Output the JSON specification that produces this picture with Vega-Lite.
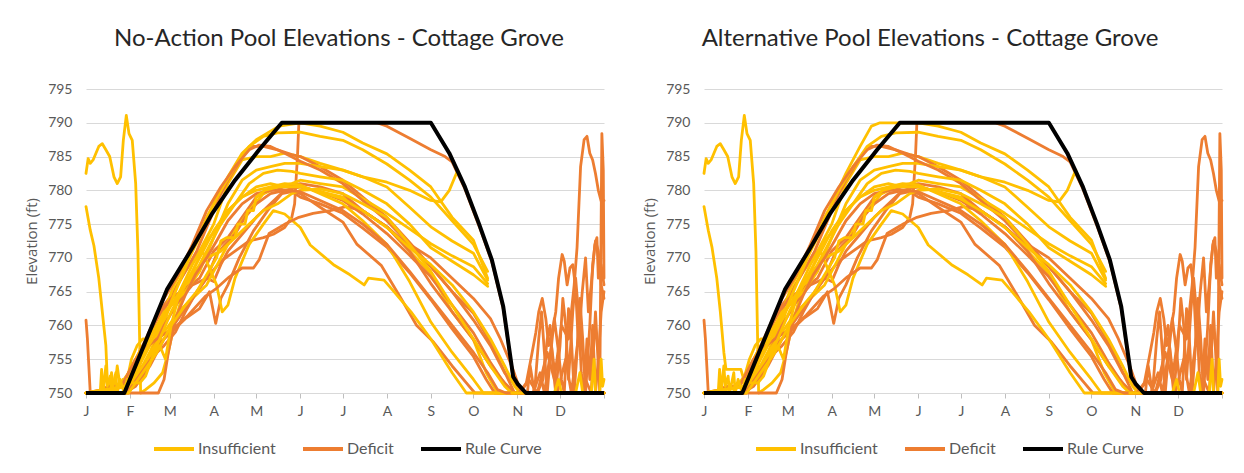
{
"$schema": "https://vega.github.io/schema/vega-lite/v6.json",
"padding": {"left": 24, "top": 27, "right": 5, "bottom": 2},
"background": "#ffffff",
"config": {
 "font": "Lato",
 "view": {"stroke": null},
 "axis": {"labelFont": "Lato", "labelFontSize": 14, "labelColor": "#595959", "titleFont": "Open Sans", "titleFontSize": 15, "titleColor": "#595959", "titleFontWeight": "normal"},
 "legend": {"labelFont": "Lato", "labelFontSize": 16, "labelColor": "#595959"},
 "title": {"font": "Lato", "fontSize": 24, "fontWeight": "normal", "color": "#262626"}
},
"datasets": {
"series": [
 {"s": "RC", "type": "Rule Curve", "panel": "both"},
 {"s": "Y1", "type": "Insufficient", "panel": "both"},
 {"s": "Y2", "type": "Insufficient", "panel": "NA"},
 {"s": "Y2a", "type": "Insufficient", "panel": "ALT"},
 {"s": "Y3", "type": "Insufficient", "panel": "NA"},
 {"s": "Y3a", "type": "Insufficient", "panel": "ALT"},
 {"s": "Y4", "type": "Insufficient", "panel": "both"},
 {"s": "Y5", "type": "Insufficient", "panel": "both"},
 {"s": "Y6", "type": "Insufficient", "panel": "both"},
 {"s": "Y7", "type": "Insufficient", "panel": "both"},
 {"s": "Y8", "type": "Insufficient", "panel": "both"},
 {"s": "Y9", "type": "Insufficient", "panel": "both"},
 {"s": "Y10", "type": "Insufficient", "panel": "both"},
 {"s": "Y11", "type": "Insufficient", "panel": "both"},
 {"s": "Y12", "type": "Insufficient", "panel": "both"},
 {"s": "D1", "type": "Deficit", "panel": "both"},
 {"s": "D2", "type": "Deficit", "panel": "both"},
 {"s": "D3", "type": "Deficit", "panel": "both"},
 {"s": "D4", "type": "Deficit", "panel": "both"},
 {"s": "D5", "type": "Deficit", "panel": "both"},
 {"s": "D6", "type": "Deficit", "panel": "both"},
 {"s": "D7", "type": "Deficit", "panel": "both"},
 {"s": "D8", "type": "Deficit", "panel": "both"},
 {"s": "D9", "type": "Deficit", "panel": "both"},
 {"s": "Z1", "type": "Deficit", "panel": "both"},
 {"s": "Z2", "type": "Deficit", "panel": "both"},
 {"s": "Z3", "type": "Deficit", "panel": "both"},
 {"s": "Z4", "type": "Deficit", "panel": "both"},
 {"s": "Z5", "type": "Deficit", "panel": "both"}
],
"pts": [
{"s":"Y1","d":0,"e":782.5},{"s":"Y1","d":1.5,"e":784.7},{"s":"Y1","d":3,"e":784},{"s":"Y1","d":5,"e":784.5},{"s":"Y1","d":7,"e":785.5},{"s":"Y1","d":9,"e":786.5},{"s":"Y1","d":11.5,"e":786.9},{"s":"Y1","d":14,"e":786},{"s":"Y1","d":16.7,"e":785},{"s":"Y1","d":19.7,"e":782},{"s":"Y1","d":22,"e":781},{"s":"Y1","d":24.4,"e":782},{"s":"Y1","d":26.3,"e":787.4},{"s":"Y1","d":28.4,"e":791.1},{"s":"Y1","d":30.3,"e":788.4},{"s":"Y1","d":32.6,"e":787.4},{"s":"Y1","d":35,"e":781},{"s":"Y1","d":36.6,"e":771},{"s":"Y1","d":38.5,"e":750},{"s":"Y1","d":42,"e":750.5},{"s":"Y1","d":48,"e":751.5},{"s":"Y1","d":54,"e":753},{"s":"Y1","d":58,"e":756},{"s":"Y1","d":62,"e":760},{"s":"Y1","d":66,"e":763},{"s":"Y1","d":70,"e":765.5},{"s":"Y1","d":80,"e":769},{"s":"Y1","d":90,"e":773},{"s":"Y1","d":100,"e":777},{"s":"Y1","d":110,"e":779},{"s":"Y1","d":120,"e":780.5},{"s":"Y1","d":130,"e":781},{"s":"Y1","d":140,"e":780.5},{"s":"Y1","d":151,"e":780.5},{"s":"Y1","d":165,"e":779.8},{"s":"Y1","d":181,"e":779},{"s":"Y1","d":195,"e":777},{"s":"Y1","d":212,"e":774.6},{"s":"Y1","d":228,"e":771},{"s":"Y1","d":243,"e":767.7},{"s":"Y1","d":258,"e":762},{"s":"Y1","d":273,"e":757.9},{"s":"Y1","d":282,"e":753},{"s":"Y1","d":290,"e":750},{"s":"Y1","d":365,"e":750},
{"s":"D1","d":0,"e":760.8},{"s":"D1","d":1,"e":758},{"s":"D1","d":2,"e":754},{"s":"D1","d":3,"e":750},{"s":"D1","d":27,"e":750},{"s":"D1","d":35,"e":751},{"s":"D1","d":45,"e":754},{"s":"D1","d":55,"e":758},{"s":"D1","d":65,"e":761},{"s":"D1","d":75,"e":764},{"s":"D1","d":85,"e":767},{"s":"D1","d":95,"e":769.5},{"s":"D1","d":105,"e":771},{"s":"D1","d":115,"e":772.5},{"s":"D1","d":125,"e":773},{"s":"D1","d":132,"e":773.5},{"s":"D1","d":140,"e":774.5},{"s":"D1","d":145,"e":776},{"s":"D1","d":147,"e":778},{"s":"D1","d":149,"e":785},{"s":"D1","d":150,"e":790},{"s":"D1","d":205,"e":790},{"s":"D1","d":212,"e":789.5},{"s":"D1","d":228,"e":787.7},{"s":"D1","d":243,"e":786},{"s":"D1","d":253,"e":785},{"s":"D1","d":258,"e":784.2},{"s":"D1","d":267,"e":780.2},{"s":"D1","d":277,"e":774.7},{"s":"D1","d":286,"e":769.4},{"s":"D1","d":294,"e":762.5},{"s":"D1","d":301,"e":752.1},{"s":"D1","d":306,"e":750},{"s":"D1","d":365,"e":750},
{"s":"Y2","d":0,"e":777.6},{"s":"Y2","d":3,"e":774.1},{"s":"Y2","d":5.6,"e":771.8},{"s":"Y2","d":9,"e":767},{"s":"Y2","d":11.5,"e":762},{"s":"Y2","d":14,"e":757},{"s":"Y2","d":15,"e":752},{"s":"Y2","d":16,"e":750},{"s":"Y2","d":18,"e":753},{"s":"Y2","d":20,"e":750},{"s":"Y2","d":22,"e":754},{"s":"Y2","d":24,"e":751},{"s":"Y2","d":26,"e":752},{"s":"Y2","d":28,"e":751},{"s":"Y2","d":32,"e":755},{"s":"Y2","d":36,"e":757},{"s":"Y2","d":40,"e":758},{"s":"Y2","d":45,"e":758},{"s":"Y2","d":50,"e":756},{"s":"Y2","d":55,"e":760},{"s":"Y2","d":60,"e":764},{"s":"Y2","d":64,"e":766},{"s":"Y2","d":70,"e":768},{"s":"Y2","d":80,"e":771},{"s":"Y2","d":90,"e":775},{"s":"Y2","d":100,"e":781},{"s":"Y2","d":110,"e":784.5},{"s":"Y2","d":120,"e":785},{"s":"Y2","d":130,"e":785},{"s":"Y2","d":140,"e":785.5},{"s":"Y2","d":151,"e":785},{"s":"Y2","d":165,"e":784},{"s":"Y2","d":181,"e":783},{"s":"Y2","d":195,"e":782},{"s":"Y2","d":212,"e":781.2},{"s":"Y2","d":228,"e":780},{"s":"Y2","d":243,"e":778.5},{"s":"Y2","d":250,"e":778.3},{"s":"Y2","d":256,"e":780},{"s":"Y2","d":262,"e":783},
{"s":"Y2a","d":0,"e":777.6},{"s":"Y2a","d":3,"e":774.1},{"s":"Y2a","d":5.6,"e":771.6},{"s":"Y2a","d":9,"e":767},{"s":"Y2a","d":11.5,"e":762},{"s":"Y2a","d":14,"e":756},{"s":"Y2a","d":15.5,"e":753.5},{"s":"Y2a","d":26,"e":753.5},{"s":"Y2a","d":28,"e":752},{"s":"Y2a","d":32,"e":755},{"s":"Y2a","d":36,"e":757},{"s":"Y2a","d":40,"e":758},{"s":"Y2a","d":45,"e":758},{"s":"Y2a","d":50,"e":756},{"s":"Y2a","d":55,"e":760},{"s":"Y2a","d":60,"e":764},{"s":"Y2a","d":64,"e":766},{"s":"Y2a","d":70,"e":768},{"s":"Y2a","d":80,"e":771},{"s":"Y2a","d":90,"e":775},{"s":"Y2a","d":100,"e":781},{"s":"Y2a","d":110,"e":784.5},{"s":"Y2a","d":120,"e":785},{"s":"Y2a","d":130,"e":785},{"s":"Y2a","d":140,"e":785.5},{"s":"Y2a","d":151,"e":785},{"s":"Y2a","d":165,"e":784},{"s":"Y2a","d":181,"e":783},{"s":"Y2a","d":195,"e":782},{"s":"Y2a","d":212,"e":781.2},{"s":"Y2a","d":228,"e":780},{"s":"Y2a","d":243,"e":778.5},{"s":"Y2a","d":250,"e":778.3},{"s":"Y2a","d":256,"e":780},{"s":"Y2a","d":262,"e":783},
{"s":"D2","d":0,"e":750},{"s":"D2","d":27,"e":750},{"s":"D2","d":33,"e":752},{"s":"D2","d":40,"e":756},{"s":"D2","d":48,"e":760},{"s":"D2","d":55,"e":763},{"s":"D2","d":62,"e":765},{"s":"D2","d":70,"e":768},{"s":"D2","d":78,"e":771},{"s":"D2","d":86,"e":775},{"s":"D2","d":94,"e":779},{"s":"D2","d":100,"e":781.5},{"s":"D2","d":106,"e":783.5},{"s":"D2","d":112,"e":785.5},{"s":"D2","d":117,"e":786.5},{"s":"D2","d":125,"e":786.5},{"s":"D2","d":135,"e":786},{"s":"D2","d":145,"e":785.3},{"s":"D2","d":151,"e":785},{"s":"D2","d":165,"e":783.5},{"s":"D2","d":181,"e":781.5},{"s":"D2","d":195,"e":779},{"s":"D2","d":212,"e":776},{"s":"D2","d":228,"e":772.3},{"s":"D2","d":243,"e":768.7},{"s":"D2","d":258,"e":765},{"s":"D2","d":273,"e":761.8},{"s":"D2","d":285,"e":757.5},{"s":"D2","d":293,"e":754},{"s":"D2","d":302,"e":750},{"s":"D2","d":365,"e":750},
{"s":"Y3","d":0,"e":750},{"s":"Y3","d":27,"e":750},{"s":"Y3","d":35,"e":753},{"s":"Y3","d":45,"e":757},{"s":"Y3","d":55,"e":762},{"s":"Y3","d":62,"e":766},{"s":"Y3","d":70,"e":769},{"s":"Y3","d":80,"e":773},{"s":"Y3","d":90,"e":778},{"s":"Y3","d":100,"e":782},{"s":"Y3","d":110,"e":785.5},{"s":"Y3","d":120,"e":787.5},{"s":"Y3","d":128,"e":788.5},{"s":"Y3","d":136,"e":789.5},{"s":"Y3","d":151,"e":790},{"s":"Y3","d":165,"e":789.5},{"s":"Y3","d":181,"e":788.6},{"s":"Y3","d":195,"e":787},{"s":"Y3","d":212,"e":785.4},{"s":"Y3","d":228,"e":783},{"s":"Y3","d":243,"e":780.5},{"s":"Y3","d":258,"e":776},{"s":"Y3","d":273,"e":772.6},{"s":"Y3","d":283,"e":767},
{"s":"Y3a","d":0,"e":750},{"s":"Y3a","d":27,"e":750},{"s":"Y3a","d":35,"e":753},{"s":"Y3a","d":45,"e":757},{"s":"Y3a","d":55,"e":762},{"s":"Y3a","d":62,"e":766},{"s":"Y3a","d":70,"e":769},{"s":"Y3a","d":80,"e":773},{"s":"Y3a","d":90,"e":778},{"s":"Y3a","d":100,"e":782.5},{"s":"Y3a","d":110,"e":786.5},{"s":"Y3a","d":118,"e":789.5},{"s":"Y3a","d":124,"e":790},{"s":"Y3a","d":151,"e":790},{"s":"Y3a","d":165,"e":789.5},{"s":"Y3a","d":181,"e":788.6},{"s":"Y3a","d":195,"e":787},{"s":"Y3a","d":212,"e":785.4},{"s":"Y3a","d":228,"e":783},{"s":"Y3a","d":243,"e":780.5},{"s":"Y3a","d":258,"e":776},{"s":"Y3a","d":273,"e":772.6},{"s":"Y3a","d":283,"e":767},
{"s":"D3","d":0,"e":750},{"s":"D3","d":10,"e":750},{"s":"D3","d":15,"e":751},{"s":"D3","d":25,"e":751},{"s":"D3","d":30,"e":753},{"s":"D3","d":40,"e":757},{"s":"D3","d":50,"e":761},{"s":"D3","d":60,"e":764},{"s":"D3","d":70,"e":765.5},{"s":"D3","d":80,"e":767},{"s":"D3","d":90,"e":771},{"s":"D3","d":100,"e":773},{"s":"D3","d":110,"e":776},{"s":"D3","d":120,"e":779},{"s":"D3","d":130,"e":780},{"s":"D3","d":140,"e":780.5},{"s":"D3","d":151,"e":781},{"s":"D3","d":165,"e":780.5},{"s":"D3","d":181,"e":779.5},{"s":"D3","d":195,"e":777},{"s":"D3","d":212,"e":774.6},{"s":"D3","d":228,"e":771.7},{"s":"D3","d":243,"e":768.7},{"s":"D3","d":258,"e":765},{"s":"D3","d":273,"e":760.8},{"s":"D3","d":285,"e":757},{"s":"D3","d":295,"e":753},{"s":"D3","d":303,"e":751},{"s":"D3","d":308,"e":750},{"s":"D3","d":365,"e":750},
{"s":"Y4","d":0,"e":750},{"s":"Y4","d":27,"e":750},{"s":"Y4","d":35,"e":752},{"s":"Y4","d":45,"e":756},{"s":"Y4","d":55,"e":761},{"s":"Y4","d":65,"e":766},{"s":"Y4","d":75,"e":771},{"s":"Y4","d":85,"e":776},{"s":"Y4","d":95,"e":780},{"s":"Y4","d":105,"e":783.5},{"s":"Y4","d":115,"e":786.5},{"s":"Y4","d":125,"e":788},{"s":"Y4","d":135,"e":788.5},{"s":"Y4","d":151,"e":788.6},{"s":"Y4","d":165,"e":788},{"s":"Y4","d":181,"e":787.4},{"s":"Y4","d":195,"e":786},{"s":"Y4","d":212,"e":783.9},{"s":"Y4","d":228,"e":781.5},{"s":"Y4","d":243,"e":779},{"s":"Y4","d":258,"e":775.5},{"s":"Y4","d":273,"e":772},{"s":"Y4","d":283,"e":768},
{"s":"D4","d":0,"e":750},{"s":"D4","d":30,"e":750},{"s":"D4","d":38,"e":753},{"s":"D4","d":46,"e":756},{"s":"D4","d":55,"e":760},{"s":"D4","d":65,"e":763.5},{"s":"D4","d":75,"e":766},{"s":"D4","d":85,"e":767},{"s":"D4","d":90,"e":766.5},{"s":"D4","d":95,"e":769},{"s":"D4","d":100,"e":771},{"s":"D4","d":110,"e":773.5},{"s":"D4","d":120,"e":776},{"s":"D4","d":130,"e":778},{"s":"D4","d":140,"e":780},{"s":"D4","d":151,"e":780.5},{"s":"D4","d":165,"e":779.8},{"s":"D4","d":181,"e":778.5},{"s":"D4","d":195,"e":776.5},{"s":"D4","d":212,"e":773.6},{"s":"D4","d":228,"e":770.4},{"s":"D4","d":243,"e":767.2},{"s":"D4","d":258,"e":763},{"s":"D4","d":273,"e":758.9},{"s":"D4","d":285,"e":754.5},{"s":"D4","d":293,"e":752},{"s":"D4","d":300,"e":750},{"s":"D4","d":365,"e":750},
{"s":"Y5","d":0,"e":750},{"s":"Y5","d":20,"e":750},{"s":"Y5","d":30,"e":753},{"s":"Y5","d":40,"e":757},{"s":"Y5","d":50,"e":760},{"s":"Y5","d":60,"e":763},{"s":"Y5","d":70,"e":765},{"s":"Y5","d":80,"e":768},{"s":"Y5","d":90,"e":773},{"s":"Y5","d":100,"e":778},{"s":"Y5","d":110,"e":781.5},{"s":"Y5","d":120,"e":783},{"s":"Y5","d":130,"e":783.5},{"s":"Y5","d":140,"e":784},{"s":"Y5","d":151,"e":784},{"s":"Y5","d":165,"e":783.5},{"s":"Y5","d":181,"e":783},{"s":"Y5","d":195,"e":782},{"s":"Y5","d":212,"e":780.5},{"s":"Y5","d":228,"e":777.5},{"s":"Y5","d":243,"e":774.6},{"s":"Y5","d":258,"e":772.5},{"s":"Y5","d":273,"e":770.7},{"s":"Y5","d":283,"e":766.7},
{"s":"D5","d":0,"e":750},{"s":"D5","d":28,"e":750},{"s":"D5","d":40,"e":754},{"s":"D5","d":50,"e":757},{"s":"D5","d":60,"e":759},{"s":"D5","d":70,"e":761},{"s":"D5","d":80,"e":762.5},{"s":"D5","d":87,"e":765},{"s":"D5","d":91.4,"e":760.3},{"s":"D5","d":95,"e":764},{"s":"D5","d":100,"e":766},{"s":"D5","d":108,"e":770},{"s":"D5","d":118,"e":774},{"s":"D5","d":128,"e":777},{"s":"D5","d":138,"e":779.5},{"s":"D5","d":145,"e":779.8},{"s":"D5","d":151,"e":779},{"s":"D5","d":165,"e":778},{"s":"D5","d":181,"e":776.6},{"s":"D5","d":195,"e":774.4},{"s":"D5","d":212,"e":771.6},{"s":"D5","d":228,"e":767.8},{"s":"D5","d":243,"e":763.8},{"s":"D5","d":258,"e":759.5},{"s":"D5","d":273,"e":755.4},{"s":"D5","d":282,"e":752},{"s":"D5","d":288,"e":750},{"s":"D5","d":365,"e":750},
{"s":"Y6","d":0,"e":750},{"s":"Y6","d":25,"e":750},{"s":"Y6","d":35,"e":752},{"s":"Y6","d":45,"e":756},{"s":"Y6","d":55,"e":759},{"s":"Y6","d":65,"e":762},{"s":"Y6","d":75,"e":764},{"s":"Y6","d":85,"e":766},{"s":"Y6","d":95,"e":770},{"s":"Y6","d":105,"e":774},{"s":"Y6","d":115,"e":777},{"s":"Y6","d":125,"e":779.5},{"s":"Y6","d":135,"e":780.5},{"s":"Y6","d":145,"e":781},{"s":"Y6","d":151,"e":781.5},{"s":"Y6","d":165,"e":781},{"s":"Y6","d":181,"e":780.5},{"s":"Y6","d":195,"e":778.8},{"s":"Y6","d":212,"e":776.6},{"s":"Y6","d":228,"e":774.3},{"s":"Y6","d":243,"e":772.1},{"s":"Y6","d":258,"e":770.3},{"s":"Y6","d":273,"e":768.7},{"s":"Y6","d":283,"e":766.2},
{"s":"D6","d":0,"e":750},{"s":"D6","d":28,"e":750},{"s":"D6","d":35,"e":752},{"s":"D6","d":45,"e":755},{"s":"D6","d":55,"e":757},{"s":"D6","d":63,"e":759},{"s":"D6","d":70,"e":762},{"s":"D6","d":78,"e":765},{"s":"D6","d":85,"e":767},{"s":"D6","d":92,"e":770.5},{"s":"D6","d":98,"e":772},{"s":"D6","d":105,"e":773.5},{"s":"D6","d":112,"e":776},{"s":"D6","d":120,"e":778},{"s":"D6","d":130,"e":779.5},{"s":"D6","d":140,"e":780},{"s":"D6","d":151,"e":779.5},{"s":"D6","d":165,"e":777.5},{"s":"D6","d":181,"e":775.3},{"s":"D6","d":191,"e":772},{"s":"D6","d":208,"e":768.9},{"s":"D6","d":222,"e":764},{"s":"D6","d":233,"e":760},{"s":"D6","d":245,"e":757.5},{"s":"D6","d":258,"e":754},{"s":"D6","d":268,"e":751.5},{"s":"D6","d":274,"e":750},{"s":"D6","d":365,"e":750},
{"s":"Y7","d":0,"e":750},{"s":"Y7","d":25,"e":751},{"s":"Y7","d":35,"e":754},{"s":"Y7","d":45,"e":758},{"s":"Y7","d":55,"e":762},{"s":"Y7","d":65,"e":764},{"s":"Y7","d":75,"e":768},{"s":"Y7","d":82,"e":771},{"s":"Y7","d":88,"e":768},{"s":"Y7","d":92,"e":766},{"s":"Y7","d":96,"e":762},{"s":"Y7","d":100,"e":763},{"s":"Y7","d":105,"e":767},{"s":"Y7","d":115,"e":772},{"s":"Y7","d":125,"e":775},{"s":"Y7","d":132,"e":777},{"s":"Y7","d":140,"e":776.5},{"s":"Y7","d":151,"e":774.5},{"s":"Y7","d":158,"e":771.9},{"s":"Y7","d":175,"e":768.9},{"s":"Y7","d":186,"e":767.5},{"s":"Y7","d":196,"e":766},{"s":"Y7","d":199,"e":767},{"s":"Y7","d":210,"e":766.7},{"s":"Y7","d":217,"e":765},{"s":"Y7","d":229,"e":762},{"s":"Y7","d":243,"e":758},{"s":"Y7","d":258,"e":753},{"s":"Y7","d":268,"e":750},{"s":"Y7","d":365,"e":750},
{"s":"D7","d":0,"e":750},{"s":"D7","d":25,"e":751},{"s":"D7","d":30,"e":753},{"s":"D7","d":35,"e":755},{"s":"D7","d":40,"e":756.4},{"s":"D7","d":50,"e":758},{"s":"D7","d":63,"e":759.8},{"s":"D7","d":72,"e":761.5},{"s":"D7","d":84,"e":764.3},{"s":"D7","d":92,"e":765.5},{"s":"D7","d":101,"e":767.2},{"s":"D7","d":110,"e":768.5},{"s":"D7","d":118,"e":768.5},{"s":"D7","d":122,"e":769.7},{"s":"D7","d":129,"e":773.6},{"s":"D7","d":141,"e":775.1},{"s":"D7","d":150,"e":776},{"s":"D7","d":160,"e":776.6},{"s":"D7","d":172,"e":777},{"s":"D7","d":183,"e":777.6},{"s":"D7","d":195,"e":777},{"s":"D7","d":212,"e":774.6},{"s":"D7","d":228,"e":771},{"s":"D7","d":243,"e":766.2},{"s":"D7","d":258,"e":762},{"s":"D7","d":273,"e":757.9},{"s":"D7","d":285,"e":754},{"s":"D7","d":295,"e":751.5},{"s":"D7","d":302,"e":750},{"s":"D7","d":365,"e":750},
{"s":"Y8","d":0,"e":750},{"s":"Y8","d":30,"e":751},{"s":"Y8","d":40,"e":754},{"s":"Y8","d":50,"e":757},{"s":"Y8","d":60,"e":762},{"s":"Y8","d":70,"e":766},{"s":"Y8","d":80,"e":770},{"s":"Y8","d":90,"e":774},{"s":"Y8","d":100,"e":777},{"s":"Y8","d":110,"e":779},{"s":"Y8","d":120,"e":780},{"s":"Y8","d":130,"e":780.5},{"s":"Y8","d":140,"e":781},{"s":"Y8","d":151,"e":780.8},{"s":"Y8","d":165,"e":779.5},{"s":"Y8","d":181,"e":778},{"s":"Y8","d":195,"e":775.5},{"s":"Y8","d":212,"e":772},{"s":"Y8","d":228,"e":766.5},{"s":"Y8","d":243,"e":760.5},{"s":"Y8","d":258,"e":756},{"s":"Y8","d":273,"e":752},{"s":"Y8","d":280,"e":750},{"s":"Y8","d":365,"e":750},
{"s":"D8","d":0,"e":750},{"s":"D8","d":27,"e":750},{"s":"D8","d":40,"e":757},{"s":"D8","d":55,"e":764},{"s":"D8","d":65,"e":767.5},{"s":"D8","d":75,"e":772},{"s":"D8","d":85,"e":777},{"s":"D8","d":95,"e":780.5},{"s":"D8","d":105,"e":783.5},{"s":"D8","d":115,"e":786},{"s":"D8","d":122,"e":786.7},{"s":"D8","d":130,"e":786.5},{"s":"D8","d":140,"e":785.5},{"s":"D8","d":151,"e":784.3},{"s":"D8","d":165,"e":783},{"s":"D8","d":181,"e":781},{"s":"D8","d":195,"e":778.5},{"s":"D8","d":212,"e":775.5},{"s":"D8","d":228,"e":772},{"s":"D8","d":243,"e":770},{"s":"D8","d":258,"e":767},{"s":"D8","d":273,"e":764},{"s":"D8","d":285,"e":761},{"s":"D8","d":292,"e":758},{"s":"D8","d":300,"e":754},{"s":"D8","d":305,"e":751},{"s":"D8","d":310,"e":750},{"s":"D8","d":365,"e":750},
{"s":"Y9","d":0,"e":750},{"s":"Y9","d":28,"e":751},{"s":"Y9","d":38,"e":755},{"s":"Y9","d":50,"e":759},{"s":"Y9","d":60,"e":763},{"s":"Y9","d":72,"e":767},{"s":"Y9","d":85,"e":770},{"s":"Y9","d":95,"e":771},{"s":"Y9","d":105,"e":773},{"s":"Y9","d":115,"e":775},{"s":"Y9","d":125,"e":777},{"s":"Y9","d":135,"e":778},{"s":"Y9","d":145,"e":779.5},{"s":"Y9","d":151,"e":780},{"s":"Y9","d":165,"e":780.2},{"s":"Y9","d":181,"e":779.5},{"s":"Y9","d":195,"e":778},{"s":"Y9","d":212,"e":776},{"s":"Y9","d":228,"e":772},{"s":"Y9","d":243,"e":768},{"s":"Y9","d":258,"e":763},{"s":"Y9","d":273,"e":758},{"s":"Y9","d":285,"e":754},{"s":"Y9","d":295,"e":751},{"s":"Y9","d":300,"e":750},{"s":"Y9","d":365,"e":750},
{"s":"D9","d":0,"e":750},{"s":"D9","d":51,"e":750},{"s":"D9","d":55,"e":752},{"s":"D9","d":58,"e":756},{"s":"D9","d":63,"e":761},{"s":"D9","d":70,"e":764.5},{"s":"D9","d":77,"e":767.5},{"s":"D9","d":85,"e":770},{"s":"D9","d":92,"e":772.5},{"s":"D9","d":100,"e":775.5},{"s":"D9","d":110,"e":778},{"s":"D9","d":120,"e":779.5},{"s":"D9","d":130,"e":780},{"s":"D9","d":140,"e":780},{"s":"D9","d":151,"e":779.8},{"s":"D9","d":165,"e":778.5},{"s":"D9","d":181,"e":777},{"s":"D9","d":195,"e":775},{"s":"D9","d":212,"e":772},{"s":"D9","d":228,"e":768},{"s":"D9","d":243,"e":764},{"s":"D9","d":258,"e":760},{"s":"D9","d":273,"e":756},{"s":"D9","d":283,"e":753},{"s":"D9","d":290,"e":750.5},{"s":"D9","d":296,"e":750},{"s":"D9","d":365,"e":750},
{"s":"Y10","d":0,"e":750},{"s":"Y10","d":10,"e":750},{"s":"Y10","d":11,"e":753.5},{"s":"Y10","d":12,"e":750},{"s":"Y10","d":14,"e":754},{"s":"Y10","d":15,"e":751},{"s":"Y10","d":17,"e":752.5},{"s":"Y10","d":18,"e":750},{"s":"Y10","d":21,"e":753},{"s":"Y10","d":22,"e":750},{"s":"Y10","d":24,"e":752},{"s":"Y10","d":27,"e":750},{"s":"Y10","d":29,"e":752},{"s":"Y10","d":31,"e":751.5},{"s":"Y10","d":38,"e":751.5},{"s":"Y10","d":42,"e":752.5},{"s":"Y10","d":48,"e":756},{"s":"Y10","d":52,"e":757},{"s":"Y10","d":56,"e":755},{"s":"Y10","d":60,"e":760},{"s":"Y10","d":66,"e":765},{"s":"Y10","d":75,"e":769},{"s":"Y10","d":85,"e":772.5},{"s":"Y10","d":95,"e":775},{"s":"Y10","d":105,"e":778},{"s":"Y10","d":115,"e":781},{"s":"Y10","d":125,"e":782.5},{"s":"Y10","d":135,"e":783},{"s":"Y10","d":145,"e":782.8},{"s":"Y10","d":151,"e":782.5},{"s":"Y10","d":165,"e":782},{"s":"Y10","d":181,"e":781.5},{"s":"Y10","d":195,"e":780},{"s":"Y10","d":212,"e":778},{"s":"Y10","d":228,"e":775},{"s":"Y10","d":243,"e":771.5},{"s":"Y10","d":258,"e":769.5},{"s":"Y10","d":273,"e":767.5},{"s":"Y10","d":283,"e":765.8},
{"s":"Y12","d":0,"e":750},{"s":"Y12","d":30,"e":750},{"s":"Y12","d":40,"e":753},{"s":"Y12","d":50,"e":756},{"s":"Y12","d":60,"e":760},{"s":"Y12","d":70,"e":763},{"s":"Y12","d":78,"e":765},{"s":"Y12","d":85,"e":767.5},{"s":"Y12","d":92,"e":770},{"s":"Y12","d":95,"e":772.5},{"s":"Y12","d":99,"e":773},{"s":"Y12","d":105,"e":773},{"s":"Y12","d":107,"e":775},{"s":"Y12","d":112,"e":775},{"s":"Y12","d":114,"e":777},{"s":"Y12","d":118,"e":777},{"s":"Y12","d":120,"e":779},{"s":"Y12","d":126,"e":780},{"s":"Y12","d":135,"e":780.5},{"s":"Y12","d":151,"e":780.5},{"s":"Y12","d":165,"e":779.8},{"s":"Y12","d":181,"e":778.7},{"s":"Y12","d":195,"e":777},{"s":"Y12","d":212,"e":774.5},{"s":"Y12","d":228,"e":771.5},{"s":"Y12","d":243,"e":769},{"s":"Y12","d":258,"e":766},{"s":"Y12","d":273,"e":762},{"s":"Y12","d":285,"e":758},{"s":"Y12","d":295,"e":754},{"s":"Y12","d":302,"e":751},{"s":"Y12","d":306,"e":750},{"s":"Y12","d":365,"e":750},
{"s":"Z1","d":305,"e":750},{"s":"Z1","d":312,"e":752},{"s":"Z1","d":318,"e":750},{"s":"Z1","d":325,"e":756},{"s":"Z1","d":330,"e":752},{"s":"Z1","d":335,"e":760},{"s":"Z1","d":340,"e":758},{"s":"Z1","d":344,"e":766},{"s":"Z1","d":346,"e":771.5},{"s":"Z1","d":348.5,"e":783.5},{"s":"Z1","d":351,"e":787.5},{"s":"Z1","d":353,"e":788},{"s":"Z1","d":355,"e":785.5},{"s":"Z1","d":357,"e":784.5},{"s":"Z1","d":359,"e":782.5},{"s":"Z1","d":361,"e":780},{"s":"Z1","d":363,"e":778.4},{"s":"Z1","d":365,"e":778.5},
{"s":"Z2","d":305,"e":750},{"s":"Z2","d":315,"e":750},{"s":"Z2","d":320,"e":753},{"s":"Z2","d":323,"e":750},{"s":"Z2","d":328,"e":757},{"s":"Z2","d":332,"e":750},{"s":"Z2","d":338,"e":755},{"s":"Z2","d":342,"e":750},{"s":"Z2","d":348,"e":760},{"s":"Z2","d":352,"e":752},{"s":"Z2","d":356,"e":750},{"s":"Z2","d":359,"e":762},{"s":"Z2","d":362,"e":750},{"s":"Z2","d":363.5,"e":788.4},{"s":"Z2","d":364.5,"e":783},{"s":"Z2","d":365,"e":767},
{"s":"Z3","d":305,"e":750},{"s":"Z3","d":310,"e":751.2},{"s":"Z3","d":314,"e":755.6},{"s":"Z3","d":317,"e":759},{"s":"Z3","d":319,"e":762},{"s":"Z3","d":321.5,"e":764},{"s":"Z3","d":324,"e":761},{"s":"Z3","d":326,"e":757},{"s":"Z3","d":328.5,"e":759},{"s":"Z3","d":331,"e":762},{"s":"Z3","d":333,"e":767},{"s":"Z3","d":335.5,"e":770.5},{"s":"Z3","d":337,"e":769.5},{"s":"Z3","d":339,"e":766},{"s":"Z3","d":341,"e":768.5},{"s":"Z3","d":343,"e":769},{"s":"Z3","d":345,"e":765.5},{"s":"Z3","d":347,"e":757},{"s":"Z3","d":349.5,"e":764.6},{"s":"Z3","d":352,"e":770},{"s":"Z3","d":354,"e":762},{"s":"Z3","d":356,"e":766},{"s":"Z3","d":358.5,"e":771.9},{"s":"Z3","d":360,"e":773},{"s":"Z3","d":361,"e":767},{"s":"Z3","d":363,"e":769},{"s":"Z3","d":365,"e":766},
{"s":"Z4","d":305,"e":750},{"s":"Z4","d":311,"e":750},{"s":"Z4","d":313,"e":754},{"s":"Z4","d":316,"e":750},{"s":"Z4","d":319,"e":758},{"s":"Z4","d":321,"e":762},{"s":"Z4","d":323,"e":756},{"s":"Z4","d":325,"e":750},{"s":"Z4","d":327,"e":755},{"s":"Z4","d":330,"e":761},{"s":"Z4","d":333,"e":756},{"s":"Z4","d":335,"e":752},{"s":"Z4","d":337,"e":750},{"s":"Z4","d":340,"e":762.5},{"s":"Z4","d":342,"e":758},{"s":"Z4","d":344,"e":750},{"s":"Z4","d":346,"e":756},{"s":"Z4","d":348,"e":764},{"s":"Z4","d":350,"e":758},{"s":"Z4","d":352,"e":750},{"s":"Z4","d":355,"e":760},{"s":"Z4","d":357,"e":769},{"s":"Z4","d":359,"e":772.5},{"s":"Z4","d":361,"e":771},{"s":"Z4","d":363,"e":766},{"s":"Z4","d":365,"e":764},
{"s":"Z5","d":305,"e":750},{"s":"Z5","d":318,"e":750},{"s":"Z5","d":322,"e":752},{"s":"Z5","d":325,"e":758},{"s":"Z5","d":327,"e":760},{"s":"Z5","d":329,"e":754},{"s":"Z5","d":331,"e":750},{"s":"Z5","d":334,"e":757},{"s":"Z5","d":336,"e":764},{"s":"Z5","d":338,"e":760},{"s":"Z5","d":340,"e":752},{"s":"Z5","d":343,"e":762},{"s":"Z5","d":345,"e":767},{"s":"Z5","d":347,"e":762},{"s":"Z5","d":349,"e":753},{"s":"Z5","d":351,"e":750},{"s":"Z5","d":353,"e":758},{"s":"Z5","d":355,"e":752},{"s":"Z5","d":357,"e":760},{"s":"Z5","d":359,"e":750},{"s":"Z5","d":361,"e":755},{"s":"Z5","d":363,"e":762},{"s":"Z5","d":365,"e":765},
{"s":"Y11","d":300,"e":750},{"s":"Y11","d":330,"e":750},{"s":"Y11","d":333,"e":752},{"s":"Y11","d":335,"e":750},{"s":"Y11","d":345,"e":750},{"s":"Y11","d":348,"e":753},{"s":"Y11","d":350,"e":750},{"s":"Y11","d":356,"e":750},{"s":"Y11","d":358,"e":755},{"s":"Y11","d":359,"e":750},{"s":"Y11","d":362,"e":750},{"s":"Y11","d":363,"e":755},{"s":"Y11","d":364,"e":751},{"s":"Y11","d":365,"e":752},
{"s":"RC","d":0,"e":750},{"s":"RC","d":27,"e":750},{"s":"RC","d":57,"e":765.3},{"s":"RC","d":75,"e":771.5},{"s":"RC","d":89,"e":776.6},{"s":"RC","d":105,"e":781.5},{"s":"RC","d":122,"e":786},{"s":"RC","d":138,"e":790},{"s":"RC","d":243,"e":790},{"s":"RC","d":256,"e":785.5},{"s":"RC","d":267,"e":780.5},{"s":"RC","d":277,"e":775},{"s":"RC","d":286,"e":769.7},{"s":"RC","d":294,"e":762.8},{"s":"RC","d":301,"e":752.4},{"s":"RC","d":304,"e":751.4},{"s":"RC","d":310,"e":750},{"s":"RC","d":365,"e":750}
]
},
"hconcat": [
 {
  "width": 518, "height": 304,
  "title": {"text": "No-Action Pool Elevations - Cottage Grove", "anchor": "middle", "frame": "group", "dx": -6, "offset": 31},
  "data": {"name": "pts"},
  "transform": [
   {"lookup": "s", "from": {"data": {"name": "series"}, "key": "s", "fields": ["type", "panel"]}},
   {"filter": "datum.panel !== 'ALT'"}
  ],
  "encoding": {
   "x": {"field": "d", "type": "quantitative", "scale": {"domain": [0, 365], "nice": false, "zero": false},
    "axis": {"title": null, "values": [0,31,59,90,120,151,181,212,243,273,304,334,365], "labelExpr": "datum.value == 0 ? 'J' : datum.value == 31 ? 'F' : datum.value == 59 ? 'M' : datum.value == 90 ? 'A' : datum.value == 120 ? 'M' : datum.value == 151 ? 'J' : datum.value == 181 ? 'J' : datum.value == 212 ? 'A' : datum.value == 243 ? 'S' : datum.value == 273 ? 'O' : datum.value == 304 ? 'N' : datum.value == 334 ? 'D' : ''", "grid": false, "ticks": true, "tickColor": "#BFBFBF", "tickSize": 5, "domainColor": "#D9D9D9", "labelPadding": 6, "labelFlush": false}},
   "y": {"field": "e", "type": "quantitative", "scale": {"domain": [750, 795], "nice": false, "zero": false},
    "axis": {"title": "Elevation (ft)", "values": [750,755,760,765,770,775,780,785,790,795], "grid": true, "gridColor": "#D9D9D9", "domain": false, "ticks": false, "labelPadding": 14, "titlePadding": 8}},
   "color": {"field": "type", "type": "nominal", "scale": {"domain": ["Insufficient", "Deficit", "Rule Curve"], "range": ["#FFC000", "#ED7D31", "#000000"]},
    "legend": {"orient": "none", "legendX": 66, "legendY": 338, "direction": "horizontal", "title": null, "symbolType": "stroke", "symbolSize": 1600, "symbolStrokeWidth": 4, "columnPadding": 19, "labelOffset": 2, "gridAlign": "none"}},
   "detail": {"field": "s"}
  },
  "layer": [
   {"transform": [{"filter": "datum.type !== 'Rule Curve'"}], "mark": {"type": "line", "strokeWidth": 2.8, "strokeJoin": "round", "strokeCap": "round"}},
   {"transform": [{"filter": "datum.type === 'Rule Curve'"}], "mark": {"type": "line", "strokeWidth": 4, "strokeJoin": "round"}}
  ]
 },
 {
  "width": 518, "height": 304,
  "title": {"text": "Alternative Pool Elevations - Cottage Grove", "anchor": "middle", "frame": "group", "dx": -33, "offset": 31},
  "data": {"name": "pts"},
  "transform": [
   {"lookup": "s", "from": {"data": {"name": "series"}, "key": "s", "fields": ["type", "panel"]}},
   {"filter": "datum.panel !== 'NA'"}
  ],
  "encoding": {
   "x": {"field": "d", "type": "quantitative", "scale": {"domain": [0, 365], "nice": false, "zero": false},
    "axis": {"title": null, "values": [0,31,59,90,120,151,181,212,243,273,304,334,365], "labelExpr": "datum.value == 0 ? 'J' : datum.value == 31 ? 'F' : datum.value == 59 ? 'M' : datum.value == 90 ? 'A' : datum.value == 120 ? 'M' : datum.value == 151 ? 'J' : datum.value == 181 ? 'J' : datum.value == 212 ? 'A' : datum.value == 243 ? 'S' : datum.value == 273 ? 'O' : datum.value == 304 ? 'N' : datum.value == 334 ? 'D' : ''", "grid": false, "ticks": true, "tickColor": "#BFBFBF", "tickSize": 5, "domainColor": "#D9D9D9", "labelPadding": 6, "labelFlush": false}},
   "y": {"field": "e", "type": "quantitative", "scale": {"domain": [750, 795], "nice": false, "zero": false},
    "axis": {"title": "Elevation (ft)", "values": [750,755,760,765,770,775,780,785,790,795], "grid": true, "gridColor": "#D9D9D9", "domain": false, "ticks": false, "labelPadding": 14, "titlePadding": 8}},
   "color": {"field": "type", "type": "nominal", "scale": {"domain": ["Insufficient", "Deficit", "Rule Curve"], "range": ["#FFC000", "#ED7D31", "#000000"]},
    "legend": {"orient": "none", "legendX": 50, "legendY": 338, "direction": "horizontal", "title": null, "symbolType": "stroke", "symbolSize": 1600, "symbolStrokeWidth": 4, "columnPadding": 19, "labelOffset": 2, "gridAlign": "none"}},
   "detail": {"field": "s"}
  },
  "layer": [
   {"transform": [{"filter": "datum.type !== 'Rule Curve'"}], "mark": {"type": "line", "strokeWidth": 2.8, "strokeJoin": "round", "strokeCap": "round"}},
   {"transform": [{"filter": "datum.type === 'Rule Curve'"}], "mark": {"type": "line", "strokeWidth": 4, "strokeJoin": "round"}}
  ]
 }
],
"spacing": 36,
"resolve": {"scale": {"color": "independent"}, "legend": {"color": "independent"}}
}
